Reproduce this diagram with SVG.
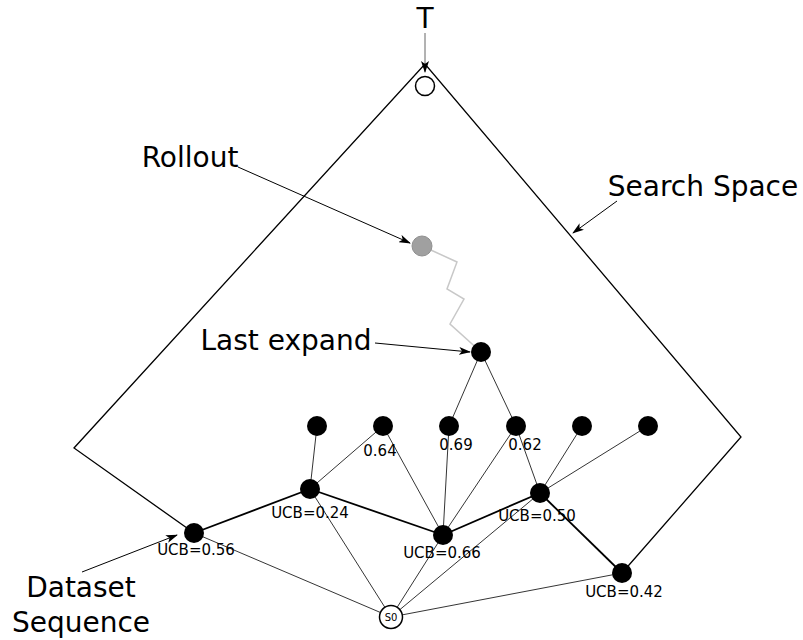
<svg xmlns="http://www.w3.org/2000/svg" width="803" height="640" viewBox="0 0 803 640">
<style>
text{font-family:"DejaVu Sans","Liberation Sans",sans-serif;fill:#000}
.big{font-size:28px}
.lab{font-size:15px}
.thin{stroke:#000;stroke-width:0.8;fill:none}
.thick{stroke:#000;stroke-width:1.8;fill:none}
.frame{stroke:#000;stroke-width:1.3;fill:none}
.arr{stroke:#000;stroke-width:1;fill:none;marker-end:url(#ah)}
.n{fill:#000}
</style>
<defs>
<marker id="ah" viewBox="0 0 12 8" refX="11" refY="4" markerWidth="12" markerHeight="8" markerUnits="userSpaceOnUse" orient="auto">
<path d="M0,0 L12,4 L0,8 L3,4 Z" fill="#000"/>
</marker>
</defs>
<rect width="803" height="640" fill="#fff"/>
<g id="connectors">
<polyline class="frame" points="194,533 74,448 425,64 741,437 622,573"/>
<line class="thick" x1="194" y1="533" x2="310" y2="489"/>
<line class="thick" x1="310" y1="489" x2="443" y2="535"/>
<line class="thick" x1="443" y1="535" x2="540" y2="493"/>
<line class="thick" x1="540" y1="493" x2="622" y2="573"/>
<line class="thin" x1="310" y1="489" x2="317" y2="426"/>
<line class="thin" x1="310" y1="489" x2="383" y2="426"/>
<line class="thin" x1="383" y1="426" x2="443" y2="535"/>
<line class="thin" x1="449" y1="426" x2="443" y2="535"/>
<line class="thin" x1="516" y1="426" x2="443" y2="535"/>
<line class="thin" x1="516" y1="426" x2="540" y2="493"/>
<line class="thin" x1="582" y1="426" x2="540" y2="493"/>
<line class="thin" x1="648" y1="426" x2="540" y2="493"/>
<line class="thin" x1="449" y1="426" x2="481" y2="352"/>
<line class="thin" x1="516" y1="426" x2="481" y2="352"/>
<line class="thin" x1="391" y1="617" x2="194" y2="533"/>
<line class="thin" x1="391" y1="617" x2="310" y2="489"/>
<line class="thin" x1="391" y1="617" x2="443" y2="535"/>
<line class="thin" x1="391" y1="617" x2="540" y2="493"/>
<line class="thin" x1="391" y1="617" x2="622" y2="573"/>
<polyline points="422,246 433,251 457,262 447,289 464,299 450,324 481,352" fill="none" stroke="#c8c8c8" stroke-width="1.5"/>
<line x1="425" y1="33" x2="425" y2="72" stroke="#666" stroke-width="1" marker-end="url(#ah)"/>
<line class="arr" x1="238" y1="167" x2="410" y2="243"/>
<line class="arr" x1="375" y1="343" x2="470" y2="352"/>
<line class="arr" x1="617" y1="201" x2="573" y2="233"/>
<line class="arr" x1="82" y1="572" x2="177" y2="535"/>
</g>
<g id="T"><text class="big" x="425" y="28" text-anchor="middle">T</text></g>
<g id="top"><circle cx="425" cy="86" r="9.5" fill="#fff" stroke="#000" stroke-width="1.5"/></g>
<g id="rollout"><text class="big" x="190" y="167" text-anchor="middle">Rollout</text><circle cx="422" cy="246" r="10" fill="#a0a0a0" stroke="#909090" stroke-width="1"/></g>
<g id="searchspace"><text class="big" x="703" y="196" text-anchor="middle">Search Space</text></g>
<g id="lastexpand"><text class="big" x="286" y="350" text-anchor="middle">Last expand</text><circle class="n" cx="481" cy="352" r="10"/></g>
<g id="dataset"><text class="big" x="81" y="597" text-anchor="middle">Dataset</text><text class="big" x="81" y="632" text-anchor="middle">Sequence</text></g>
<g id="leaf1"><circle class="n" cx="317" cy="426" r="10"/></g>
<g id="leaf2"><circle class="n" cx="383" cy="426" r="10"/><text class="lab" x="380" y="456" text-anchor="middle">0.64</text></g>
<g id="leaf3"><circle class="n" cx="449" cy="426" r="10"/><text class="lab" x="456" y="450" text-anchor="middle">0.69</text></g>
<g id="leaf4"><circle class="n" cx="516" cy="426" r="10"/><text class="lab" x="525" y="450" text-anchor="middle">0.62</text></g>
<g id="leaf5"><circle class="n" cx="582" cy="426" r="10"/></g>
<g id="leaf6"><circle class="n" cx="648" cy="426" r="10"/></g>
<g id="ucb024"><circle class="n" cx="310" cy="489" r="10"/><text class="lab" x="310" y="518" text-anchor="middle">UCB=0.24</text></g>
<g id="ucb056"><circle class="n" cx="194" cy="533" r="10"/><text class="lab" x="196" y="555" text-anchor="middle">UCB=0.56</text></g>
<g id="ucb066"><circle class="n" cx="443" cy="535" r="10"/><text class="lab" x="442" y="558" text-anchor="middle">UCB=0.66</text></g>
<g id="ucb050"><circle class="n" cx="540" cy="493" r="10"/><text class="lab" x="537" y="521" text-anchor="middle">UCB=0.50</text></g>
<g id="ucb042"><circle class="n" cx="622" cy="573" r="10"/><text class="lab" x="624" y="597" text-anchor="middle">UCB=0.42</text></g>
<g id="s0"><circle cx="391" cy="617" r="11.5" fill="#fff" stroke="#000" stroke-width="1.5"/><text x="391" y="621" text-anchor="middle" font-size="10">S0</text></g>
</svg>
